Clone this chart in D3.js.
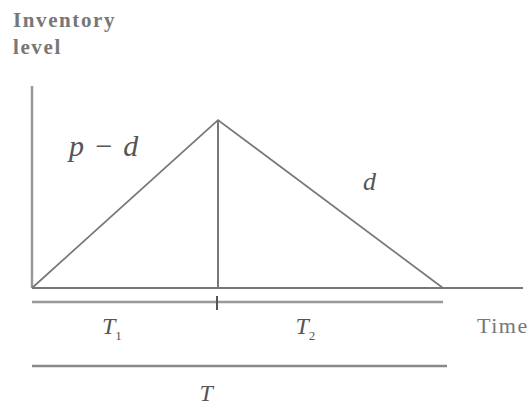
<!DOCTYPE html>
<html>
<head>
<meta charset="utf-8">
<script src="https://cdn.jsdelivr.net/npm/d3@7"></script>
<style>
  body { margin: 0; background: #fff; }
  svg { display: block; }
  text { font-family: "Liberation Serif", "Times New Roman", serif; fill: #555; }
</style>
</head>
<body>
<div id="chart"></div>
<script>
// Schematic inventory cycle: build-up at rate p-d for T1, depletion at rate d for T2
const times = [0, 186, 411];       // start, end of T1, end of T (time units)
const levels = [0, 168, 0];        // inventory level at those times
const timeMax = 491;
const levelMax = 202;
const periodLabels = ["T", "T", "T"];
const periodSubs = ["1", "2", ""];

const width = 531, height = 410;
const x0 = 32, y0 = 288;

const svg = d3.select('#chart')
    .append('svg')
    .attr('width', width)
    .attr('height', height);

const x = d3.scaleLinear().domain([0, timeMax]).range([x0, x0 + 491]);
const y = d3.scaleLinear().domain([0, levelMax]).range([y0, y0 - 202]);

const lineColor = '#777';

// Axes (plain lines, no ticks)
svg.append('line')
    .attr('x1', x(0)).attr('x2', x(0))
    .attr('y1', y(0)).attr('y2', y(levelMax))
    .style('stroke', '#999').style('stroke-width', 2.5);

svg.append('line')
    .attr('x1', x(0)).attr('x2', x(timeMax))
    .attr('y1', y(0)).attr('y2', y(0))
    .style('stroke', lineColor).style('stroke-width', 2);

// Inventory level curve
const pts = times.map((t, i) => [x(t), y(levels[i])]);
svg.append('path')
    .attr('d', d3.line()(pts))
    .style('fill', 'none')
    .style('stroke', lineColor)
    .style('stroke-width', 1.7);

// Vertical at the peak
svg.append('line')
    .attr('x1', x(times[1])).attr('x2', x(times[1]))
    .attr('y1', y(levels[1])).attr('y2', y(0))
    .style('stroke', lineColor).style('stroke-width', 2);

// T1 / T2 bracket line
const yb = 302;
svg.append('line')
    .attr('x1', x(times[0])).attr('x2', x(times[2]))
    .attr('y1', yb).attr('y2', yb)
    .style('stroke', '#999').style('stroke-width', 2.5);
svg.append('line')
    .attr('x1', x(times[1]) - 1).attr('x2', x(times[1]) - 1)
    .attr('y1', yb - 6).attr('y2', yb + 8)
    .style('stroke', '#555').style('stroke-width', 2);

// T line
const yt = 366;
svg.append('line')
    .attr('x1', x(times[0])).attr('x2', x(times[2]) + 4)
    .attr('y1', yt).attr('y2', yt)
    .style('stroke', '#888').style('stroke-width', 2.5);

// Period labels
const labelPos = [
    [(x(times[0]) + x(times[1])) / 2 - 23, 334],
    [(x(times[1]) + x(times[2])) / 2 - 35, 334],
    [(x(times[0]) + x(times[2])) / 2 - 38, 401]
];
labelPos.forEach((p, i) => {
    const t = svg.append('text')
        .attr('x', p[0]).attr('y', p[1])
        .style('font-size', '24px')
        .style('font-style', 'italic');
    t.append('tspan').text(periodLabels[i]);
    if (periodSubs[i]) {
        t.append('tspan').attr('dy', 6).style('font-size', '13px').style('font-style', 'normal').text(periodSubs[i]);
    }
});

// Rate labels
svg.append('text')
    .attr('x', 69).attr('y', 156)
    .style('font-size', '30px').style('font-style', 'italic')
    .style('letter-spacing', '1px')
    .text('p \u2212 d');
svg.append('text')
    .attr('x', 363).attr('y', 190)
    .style('font-size', '26px').style('font-style', 'italic')
    .text('d');

// Axis titles
const titleStyle = sel => sel
    .style('font-size', '21px')
    .style('font-weight', 'bold')
    .style('letter-spacing', '1.6px')
    .style('fill', '#777');
svg.append('text')
    .attr('x', 13).attr('y', 27)
    .call(titleStyle)
    .text('Inventory');
svg.append('text')
    .attr('x', 13).attr('y', 54)
    .call(titleStyle)
    .text('level');
svg.append('text')
    .attr('x', 477).attr('y', 333)
    .style('font-size', '22px')
    .style('letter-spacing', '1.5px')
    .style('fill', '#777')
    .text('Time');
</script>
</body>
</html>
